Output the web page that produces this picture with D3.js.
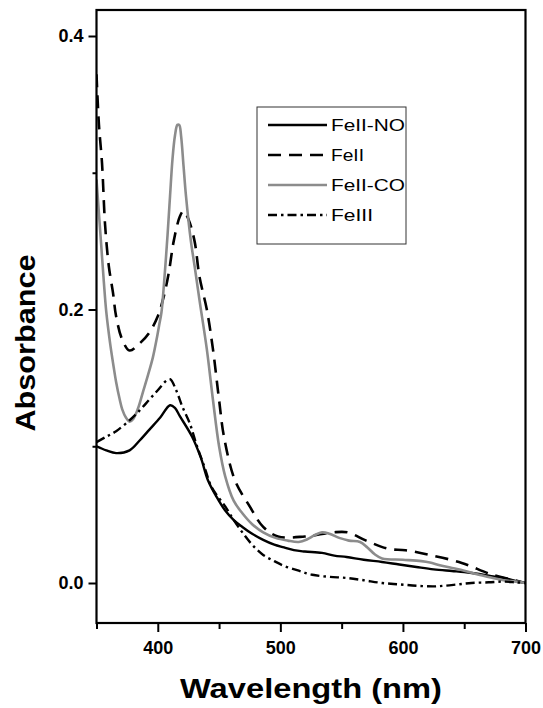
<!DOCTYPE html>
<html><head><meta charset="utf-8">
<script src="https://cdn.jsdelivr.net/npm/d3@7"></script>
<style>body{margin:0;background:#fff}svg{display:block}</style>
</head><body><svg id="c" width="543" height="708"></svg>
<script>
// ---- data ----
const seriesNames = ["FeII-NO", "FeII", "FeII-CO", "FeIII"];
const feIINO = [[350,0.100],[358,0.097],[366,0.095],[377,0.097],[385,0.104],[393,0.112],[402,0.121],[410,0.130],[414,0.128],[418,0.122],[428,0.107],[435,0.092],[441,0.075],[448,0.063],[455,0.053],[462,0.046],[469,0.041],[477,0.036],[486,0.0315],[495,0.028],[503,0.026],[511,0.024],[520,0.023],[534,0.022],[544,0.020],[554,0.019],[568,0.017],[583,0.0154],[597,0.0135],[611,0.0117],[625,0.010],[640,0.0088],[650,0.008],[662,0.0066],[672,0.005],[682,0.0037],[692,0.0015],[700,0.0]];
const feII = [[350,0.372],[352,0.335],[354.5,0.307],[357,0.262],[360,0.232],[363.5,0.212],[366,0.195],[371,0.178],[377,0.170],[385,0.175],[393,0.183],[400,0.195],[405,0.210],[409,0.227],[413,0.250],[418,0.268],[421,0.272],[425,0.266],[430,0.250],[434,0.224],[440,0.200],[445,0.171],[450,0.134],[454,0.107],[463,0.075],[475,0.056],[486,0.041],[498,0.034],[520,0.034],[543,0.037],[555,0.037],[570,0.031],[588,0.025],[602,0.024],[622,0.0205],[648,0.0147],[673,0.006],[696,0.001],[700,0.0]];
const feIICO = [[350,0.295],[352,0.27],[354,0.245],[356,0.22],[358,0.198],[361,0.176],[364,0.158],[366,0.147],[369,0.134],[371,0.127],[374,0.121],[377,0.118],[380,0.120],[384,0.128],[388,0.140],[392,0.152],[396,0.165],[399,0.178],[401,0.188],[403,0.198],[405,0.218],[408,0.255],[410,0.283],[412,0.310],[414,0.327],[416,0.335],[417.5,0.335],[419,0.327],[421,0.305],[423,0.283],[427,0.250],[430,0.232],[434,0.207],[440,0.171],[445,0.134],[450,0.100],[455,0.078],[462,0.060],[469,0.051],[477,0.043],[486,0.037],[496,0.033],[506,0.031],[515,0.030],[522,0.032],[528,0.035],[534,0.037],[540,0.036],[548,0.033],[556,0.031],[565,0.030],[571,0.026],[577,0.021],[583,0.018],[600,0.017],[615,0.016],[622,0.015],[630,0.013],[640,0.011],[650,0.009],[662,0.006],[672,0.004],[682,0.002],[692,0.001],[700,0.0]];
const feIII = [[350,0.103],[358,0.107],[366,0.111],[377,0.119],[385,0.126],[393,0.134],[400,0.141],[407,0.148],[410,0.149],[415,0.141],[420,0.129],[426,0.117],[432,0.100],[438,0.085],[444,0.070],[455,0.056],[462,0.046],[469,0.037],[477,0.028],[486,0.0205],[495,0.016],[503,0.0125],[515,0.009],[526,0.006],[540,0.0045],[554,0.0037],[568,0.002],[583,0.0],[597,-0.001],[611,-0.002],[625,-0.0025],[634,-0.002],[645,-0.001],[656,0.0],[670,0.0005],[682,0.001],[692,0.0005],[700,0.0]];
const xMajorTicks = [400, 500, 600, 700];
const xMinorTicks = [350, 450, 550, 650];
const yMajorTicks = [0.0, 0.2, 0.4];
const yMinorTicks = [0.1, 0.3];

// ---- layout ----
const L = 96.5, R = 525.5, T = 10, B = 623;
const x = d3.scaleLinear().domain([350, 700]).range([L, R]);
const y = d3.scaleLinear().domain([0, 0.4]).range([583, 36]);
const svg = d3.select("#c");
const FONT = "'Liberation Sans', Arial, sans-serif";

svg.append("defs").append("clipPath").attr("id","clip")
  .append("rect").attr("x",L).attr("y",T).attr("width",R-L).attr("height",B-T);

const line = d3.line().x(d=>x(d[0])).y(d=>y(d[1])).curve(d3.curveCatmullRom.alpha(0.5));
const styles = [
  {data: feIINO, color:"#000", width:2.4, dash:null},
  {data: feII,   color:"#000", width:2.6, dash:"13,8"},
  {data: feIICO, color:"#8c8c8c", width:2.6, dash:null},
  {data: feIII,  color:"#000", width:2.4, dash:"9,4,2.5,4"}
];
const g = svg.append("g").attr("clip-path","url(#clip)");
styles.forEach(s => {
  g.append("path").datum(s.data).attr("d", line)
    .attr("fill","none").attr("stroke",s.color).attr("stroke-width",s.width)
    .attr("stroke-dasharray",s.dash).attr("stroke-linejoin","round");
});

// ---- axes ----
function styleAxis(sel){
  sel.attr("font-size",null).attr("font-family",null);
  sel.select(".domain").remove();
  sel.selectAll("line").attr("stroke","#000").attr("stroke-width",2);
  sel.selectAll("text").attr("font-family",FONT).attr("font-weight","bold").attr("font-size",18).attr("fill","#000");
}
const xAx = svg.append("g").attr("transform",`translate(0,${B})`)
  .call(d3.axisBottom(x).tickValues(xMajorTicks).tickSize(9).tickSizeOuter(0).tickPadding(9).tickFormat(d3.format("d")));
styleAxis(xAx);
const xAxMin = svg.append("g").attr("transform",`translate(0,${B})`)
  .call(d3.axisBottom(x).tickValues(xMinorTicks).tickSize(6).tickSizeOuter(0).tickFormat(""));
styleAxis(xAxMin);
const yAx = svg.append("g").attr("transform",`translate(${L},0)`)
  .call(d3.axisLeft(y).tickValues(yMajorTicks).tickSize(8).tickSizeOuter(0).tickPadding(5).tickFormat(d3.format(".1f")));
styleAxis(yAx);
const yAxMin = svg.append("g").attr("transform",`translate(${L},0)`)
  .call(d3.axisLeft(y).tickValues(yMinorTicks).tickSize(4).tickSizeOuter(0).tickFormat(""));
styleAxis(yAxMin);

// frame
svg.append("rect").attr("x",L).attr("y",T).attr("width",R-L).attr("height",B-T)
  .attr("fill","none").attr("stroke","#000").attr("stroke-width",2.2);

// axis titles
svg.append("text").attr("x",311).attr("y",698).attr("text-anchor","middle")
  .attr("font-family",FONT).attr("font-weight","bold").attr("font-size",27)
  .attr("textLength",262).attr("lengthAdjust","spacingAndGlyphs").text("Wavelength (nm)");
svg.append("text").attr("transform","translate(35,343) rotate(-90)").attr("text-anchor","middle")
  .attr("font-family",FONT).attr("font-weight","bold").attr("font-size",28)
  .attr("textLength",177).attr("lengthAdjust","spacingAndGlyphs").text("Absorbance");

// legend
const lg = svg.append("g");
lg.append("rect").attr("x",257).attr("y",107).attr("width",149).attr("height",137)
  .attr("fill","#fff").attr("stroke","#333").attr("stroke-width",1);
const legY = d3.scalePoint().domain(seriesNames).range([125, 215]);
const legLen = [74, 33, 74, 42];
seriesNames.forEach((n,i) => {
  const s = styles[i];
  lg.append("line").attr("x1",268).attr("x2",327).attr("y1",legY(n)).attr("y2",legY(n))
    .attr("stroke",s.color).attr("stroke-width",s.width).attr("stroke-dasharray",s.dash);
  lg.append("text").attr("x",331).attr("y",legY(n)+6).attr("font-family",FONT)
    .attr("font-size",17).attr("textLength",legLen[i]).attr("lengthAdjust","spacingAndGlyphs").text(n);
});
</script></body></html>
